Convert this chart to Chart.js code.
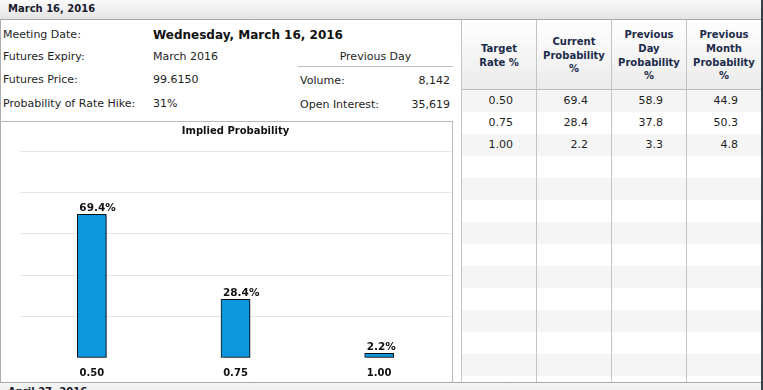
<!DOCTYPE html>
<html>
<head>
<meta charset="utf-8">
<script src="https://cdn.jsdelivr.net/npm/chart.js@4.4.1/dist/chart.umd.min.js"></script>
<style>
  html, body { margin:0; padding:0; }
  body { width:763px; height:390px; overflow:hidden; position:relative; background:#fff;
         font-family:"DejaVu Sans", Verdana, sans-serif; font-size:11px; color:#1e1e1e; }
  .abs { position:absolute; white-space:nowrap; }
  .topbar { left:0; top:0; width:761px; height:19px; border-bottom:1px solid #a8a8a8;
            background:linear-gradient(#fbfbfb, #e3e3e3); }
  .topbar span, .botbar span { position:absolute; left:8px; top:2px; font-weight:bold; font-size:10px; color:#1a1a2e; line-height:14px; }
  .botbar { left:0; top:382px; width:761px; height:20px; border-top:1px solid #a8a8a8;
            background:linear-gradient(#f6f6f6, #e3e3e3); }
  .rborder { left:761px; top:0; width:2px; height:390px; background:#35414f; }
  .lbl { line-height:14px; }
  .vline { width:1px; background:#c4c4c4; }
  .hline { height:1px; background:#bdbdbd; }
  .thead { top:20px; height:69px; background:linear-gradient(#ffffff, #ebebeb);
           display:flex; align-items:center; justify-content:center; text-align:center;
           font-weight:bold; font-size:10px; line-height:13.7px; color:#1c2b4a; padding-top:2px; box-sizing:border-box; }
  .row { left:462px; width:299px; height:22px; }
  .cell { top:0; height:22px; line-height:21px; text-align:right; }
</style>
</head>
<body>
<div class="abs topbar"><span>March 16, 2016</span></div>
<div class="abs rborder"></div>

<!-- left info panel -->
<div class="abs vline" style="left:0;top:20px;height:362px;background:#aeaeae;"></div>
<div class="abs lbl" style="left:3px;top:28px;">Meeting Date:</div>
<div class="abs lbl" style="left:3px;top:50px;">Futures Expiry:</div>
<div class="abs lbl" style="left:3px;top:73px;">Futures Price:</div>
<div class="abs lbl" style="left:3px;top:97px;">Probability of Rate Hike:</div>
<div class="abs" style="left:153px;top:27px;font-size:12px;font-weight:bold;color:#111;line-height:16px;">Wednesday, March 16, 2016</div>
<div class="abs lbl" style="left:153px;top:50px;">March 2016</div>
<div class="abs lbl" style="left:153px;top:73px;">99.6150</div>
<div class="abs lbl" style="left:153px;top:97px;">31%</div>
<div class="abs lbl" style="left:298px;top:50px;width:155px;text-align:center;">Previous Day</div>
<div class="abs hline" style="left:298px;top:66px;width:155px;"></div>
<div class="abs lbl" style="left:300px;top:74px;">Volume:</div>
<div class="abs lbl" style="left:300px;top:98px;">Open Interest:</div>
<div class="abs lbl" style="left:380px;top:74px;width:70px;text-align:right;">8,142</div>
<div class="abs lbl" style="left:380px;top:98px;width:70px;text-align:right;">35,619</div>

<!-- chart box -->
<div class="abs hline" style="left:0;top:121px;width:453px;background:#b8b8b8;"></div>
<div class="abs vline" style="left:452px;top:121px;height:261px;background:#b8b8b8;"></div>
<canvas id="c" class="abs" width="451" height="260" style="left:1px;top:122px;"></canvas>

<!-- table -->
<div id="rows"></div>
<div class="abs thead" style="left:462px;width:74px;">Target<br>Rate %</div>
<div class="abs thead" style="left:537px;width:74px;">Current<br>Probability<br>%</div>
<div class="abs thead" style="left:612px;width:74px;">Previous<br>Day<br>Probability<br>%</div>
<div class="abs thead" style="left:687px;width:74px;">Previous<br>Month<br>Probability<br>%</div>
<div class="abs hline" style="left:461px;top:89px;width:300px;"></div>
<div class="abs vline" style="left:461px;top:20px;height:362px;"></div>
<div class="abs vline" style="left:536px;top:20px;height:362px;"></div>
<div class="abs vline" style="left:611px;top:20px;height:362px;"></div>
<div class="abs vline" style="left:686px;top:20px;height:362px;"></div>

<div class="abs botbar"><span>April 27, 2016</span></div>

<script>
// ---- data ----
const targetRates = ["0.50", "0.75", "1.00"];
const currentProb = [69.4, 28.4, 2.2];
const prevDayProb = [58.9, 37.8, 3.3];
const prevMonthProb = [44.9, 50.3, 4.8];
const yTicks = [0, 20, 40, 60, 80, 100];
const chartTitle = "Implied Probability";

// ---- table rows ----
const rowsEl = document.getElementById('rows');
const totalRows = 14;
for (let i = 0; i < totalRows; i++) {
  const top = 90 + 22 * i;
  if (top >= 382) break;
  const r = document.createElement('div');
  r.className = 'abs row';
  r.style.top = top + 'px';
  r.style.height = Math.min(22, 382 - top) + 'px';
  r.style.overflow = 'hidden';
  r.style.background = (i % 2 === 0) ? '#f5f5f5' : '#ffffff';
  if (i < targetRates.length) {
    const vals = [targetRates[i], currentProb[i].toFixed(1), prevDayProb[i].toFixed(1), prevMonthProb[i].toFixed(1)];
    vals.forEach((v, j) => {
      const c = document.createElement('div');
      c.className = 'abs cell';
      c.style.left = (75 * j) + 'px';
      c.style.width = (74 - 23) + 'px';
      c.textContent = v;
      r.appendChild(c);
    });
  }
  rowsEl.appendChild(r);
}

// ---- chart ----
const shadowPlugin = {
  id: 'barShadow',
  beforeDatasetsDraw(chart) {
    const ctx = chart.ctx;
    ctx.save();
    ctx.shadowColor = 'rgba(0,0,0,0.45)';
    ctx.shadowOffsetX = 2;
    ctx.shadowOffsetY = 1;
    ctx.shadowBlur = 3;
  },
  afterDatasetsDraw(chart) {
    chart.ctx.restore();
    const ctx = chart.ctx;
    ctx.save();
    ctx.font = 'bold 10.5px "DejaVu Sans", Verdana, sans-serif';
    ctx.fillStyle = '#111';
    ctx.textAlign = 'left';
    ctx.textBaseline = 'alphabetic';
    const meta = chart.getDatasetMeta(0);
    meta.data.forEach((el, i) => {
      ctx.fillText(currentProb[i].toFixed(1) + '%', el.x - el.width / 2 + 2, el.y - 3);
    });
    ctx.restore();
  }
};

new Chart(document.getElementById('c'), {
  type: 'bar',
  data: {
    labels: targetRates,
    datasets: [{
      data: currentProb,
      backgroundColor: '#0b96dd',
      borderColor: '#111',
      borderWidth: 1,
      borderSkipped: false,
      barThickness: 29
    }]
  },
  options: {
    responsive: false,
    devicePixelRatio: 1,
    animation: false,
    layout: { padding: { left: 19, right: 1, top: 0, bottom: 0 } },
    plugins: {
      legend: { display: false },
      tooltip: { enabled: false },
      title: {
        display: true,
        text: chartTitle,
        color: '#111',
        font: { family: '"DejaVu Sans", Verdana, sans-serif', size: 10, weight: 'bold' },
        padding: { top: 3, bottom: 14 }
      }
    },
    scales: {
      y: {
        min: 0, max: 100,
        afterBuildTicks: (axis) => { axis.ticks = yTicks.map(v => ({ value: v })); },
        afterFit: (axis) => { axis.width = 0; },
        ticks: { display: false },
        border: { display: false },
        grid: {
          drawTicks: false,
          color: (c) => c.tick && c.tick.value === 0 ? 'rgba(0,0,0,0)' : '#e6e6e6'
        }
      },
      x: {
        afterFit: (axis) => { axis.height = 24; },
        border: { display: false },
        grid: { display: false, drawTicks: false },
        ticks: {
          padding: 9,
          color: '#111',
          font: { family: '"DejaVu Sans", Verdana, sans-serif', size: 10, weight: 'bold' }
        }
      }
    }
  },
  plugins: [shadowPlugin]
});
</script>
</body>
</html>
